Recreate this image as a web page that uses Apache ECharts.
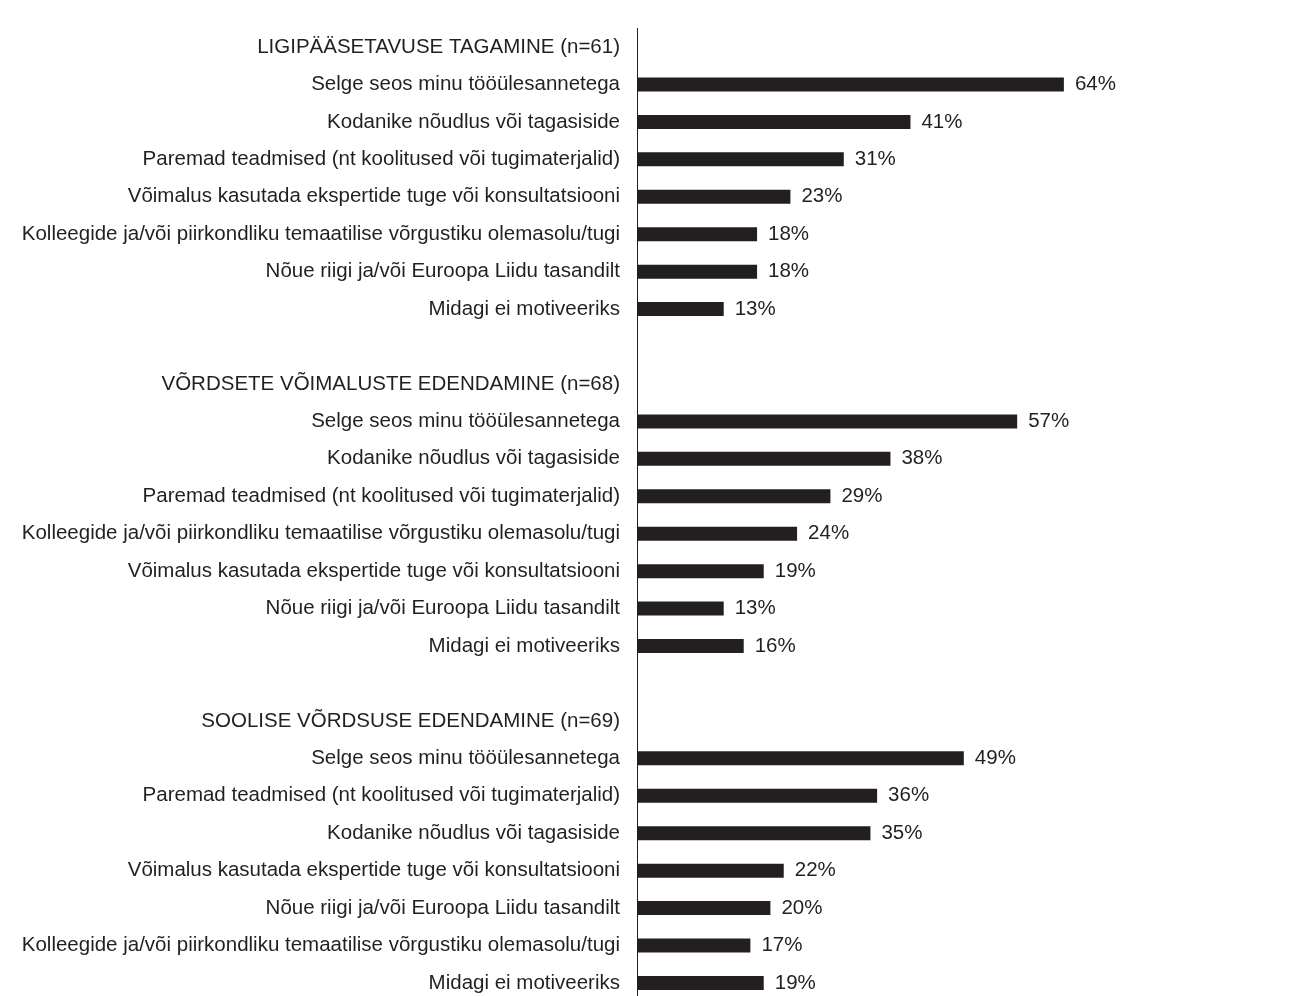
<!DOCTYPE html>
<html>
<head>
<meta charset="utf-8">
<script src="https://cdn.jsdelivr.net/npm/echarts@6/dist/echarts.min.js"></script>
<style>
html,body{margin:0;padding:0;background:#fff;overflow:hidden;}
#chart{width:1304px;height:1010px;}
</style>
</head>
<body>
<div id="chart"></div>
<script>
const headers = [
  "LIGIPÄÄSETAVUSE TAGAMINE (n=61)",
  "VÕRDSETE VÕIMALUSTE EDENDAMINE (n=68)",
  "SOOLISE VÕRDSUSE EDENDAMINE (n=69)"
];
const labels1 = [
  "Selge seos minu tööülesannetega",
  "Kodanike nõudlus või tagasiside",
  "Paremad teadmised (nt koolitused või tugimaterjalid)",
  "Võimalus kasutada ekspertide tuge või konsultatsiooni",
  "Kolleegide ja/või piirkondliku temaatilise võrgustiku olemasolu/tugi",
  "Nõue riigi ja/või Euroopa Liidu tasandilt",
  "Midagi ei motiveeriks"
];
const values1 = [64, 41, 31, 23, 18, 18, 13];
const labels2 = [
  "Selge seos minu tööülesannetega",
  "Kodanike nõudlus või tagasiside",
  "Paremad teadmised (nt koolitused või tugimaterjalid)",
  "Kolleegide ja/või piirkondliku temaatilise võrgustiku olemasolu/tugi",
  "Võimalus kasutada ekspertide tuge või konsultatsiooni",
  "Nõue riigi ja/või Euroopa Liidu tasandilt",
  "Midagi ei motiveeriks"
];
const values2 = [57, 38, 29, 24, 19, 13, 16];
const labels3 = [
  "Selge seos minu tööülesannetega",
  "Paremad teadmised (nt koolitused või tugimaterjalid)",
  "Kodanike nõudlus või tagasiside",
  "Võimalus kasutada ekspertide tuge või konsultatsiooni",
  "Nõue riigi ja/või Euroopa Liidu tasandilt",
  "Kolleegide ja/või piirkondliku temaatilise võrgustiku olemasolu/tugi",
  "Midagi ei motiveeriks"
];
const values3 = [49, 36, 35, 22, 20, 17, 19];

// Build category list with unique keys (labels repeat between groups)
const groups = [[headers[0], labels1, values1], [headers[1], labels2, values2], [headers[2], labels3, values3]];
const cats = [];
const vals = [];
groups.forEach((g, gi) => {
  if (gi > 0) { cats.push(gi + "|blank|"); vals.push(null); }
  cats.push(gi + "|h|" + g[0]); vals.push(null);
  g[1].forEach((l, i) => { cats.push(gi + "|" + i + "|" + l); vals.push(g[2][i]); });
});

const ink = '#231f20';
const font = 'Liberation Sans, Arial, sans-serif';
const chart = echarts.init(document.getElementById('chart'));
chart.setOption({
  animation: false,
  backgroundColor: '#ffffff',
  grid: { left: 637, top: 28.3, height: 973.4, width: 669, containLabel: false },
  xAxis: {
    type: 'value', min: 0, max: 100,
    show: false
  },
  yAxis: {
    type: 'category',
    inverse: true,
    data: cats,
    axisLine: { show: true, lineStyle: { color: ink, width: 1 } },
    axisTick: { show: false },
    axisLabel: {
      margin: 17,
      fontSize: 20.5,
      fontFamily: font,
      color: ink,
      interval: 0,
      padding: [3, 0, 0, 0],
      formatter: v => v.split('|').slice(2).join('|')
    }
  },
  series: [{
    type: 'bar',
    data: vals,
    barWidth: 14,
    itemStyle: { color: ink },
    label: {
      show: true,
      position: 'right',
      distance: 11,
      fontSize: 20.5,
      fontFamily: font,
      color: ink,
      padding: [3, 0, 0, 0],
      formatter: p => p.value == null ? '' : p.value + '%'
    }
  }]
});
</script>
</body>
</html>
